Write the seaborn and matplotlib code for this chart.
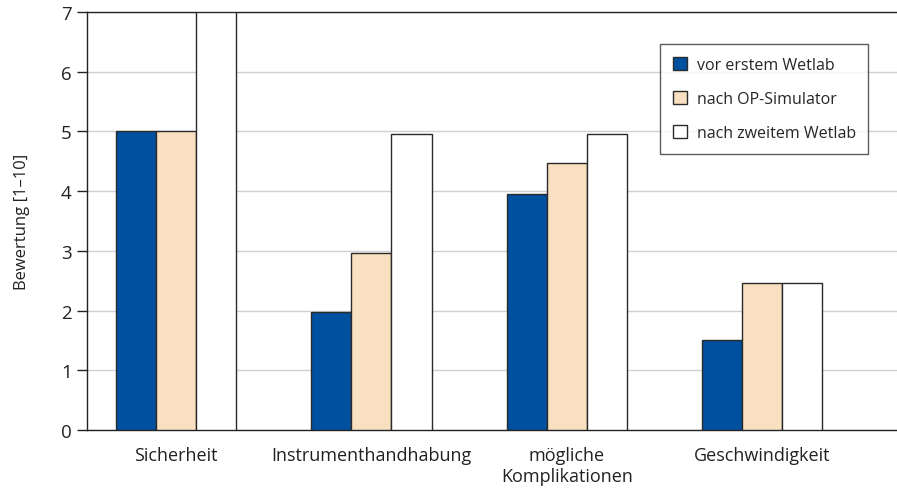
import matplotlib
matplotlib.use('Agg')
import matplotlib.pyplot as plt
import seaborn as sns
import pandas as pd

# chart values
categories = ['Sicherheit', 'Instrumenthandhabung', 'mögliche\nKomplikationen', 'Geschwindigkeit']
series = ['vor erstem Wetlab', 'nach OP-Simulator', 'nach zweitem Wetlab']
vor_wetlab = [5.0, 1.97, 3.95, 1.5]
nach_simulator = [5.0, 2.97, 4.47, 2.47]
nach_wetlab2 = [7.0, 4.95, 4.95, 2.47]
colors = ['#0050a0', '#f9e0c0', '#ffffff']

rows = []
for name, vals in zip(series, [vor_wetlab, nach_simulator, nach_wetlab2]):
    for cat, v in zip(categories, vals):
        rows.append({'Kategorie': cat, 'Serie': name, 'Wert': v})
df = pd.DataFrame(rows)

sns.set_style('white')
plt.rcParams['font.family'] = ['Open Sans', 'DejaVu Sans']

fig = plt.figure(figsize=(8.97, 5.02), dpi=100)
ax = fig.add_axes([0.097, 0.1414, 0.903, 0.8326])

sns.barplot(data=df, x='Kategorie', y='Wert', hue='Serie', order=categories,
            hue_order=series, palette=colors, width=0.615, saturation=1,
            edgecolor='#2a2a2a', linewidth=1.0, ax=ax, zorder=3)

ax.set_ylim(0, 7)
ax.set_xlim(-0.456, 3.69)
ax.set_yticks(range(0, 8))
ax.yaxis.grid(True, color='#d0d0d0', linewidth=1, zorder=0)
ax.set_axisbelow(True)
for side in ['left', 'top', 'bottom']:
    ax.spines[side].set_visible(True)
    ax.spines[side].set_color('#222222')
    ax.spines[side].set_linewidth(1.0)
ax.spines['right'].set_visible(False)

ax.tick_params(axis='y', which='both', left=True, length=7, width=1, color='#222222',
               labelsize=13.5, pad=4, labelcolor='#222222')
ax.tick_params(axis='x', bottom=False, labelsize=13, pad=8, labelcolor='#222222')
ax.set_xlabel('')
ax.set_ylabel('Bewertung [1–10]', fontsize=12, color='#222222', labelpad=22)

leg = ax.legend(loc='upper left', bbox_to_anchor=(0.6975, 0.643, 0.2765, 0.3),
                mode='expand', frameon=True, fancybox=False, edgecolor='#333333',
                fontsize=11.5, handlelength=0.9, handleheight=0.9, handletextpad=0.6,
                labelspacing=1.12, borderpad=0.8)
leg.get_frame().set_linewidth(1.0)

fig.savefig('out.png', dpi=100)
